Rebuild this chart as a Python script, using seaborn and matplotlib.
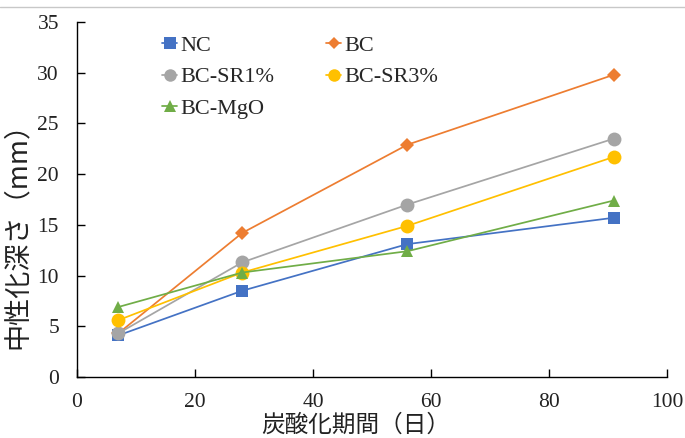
import matplotlib
matplotlib.use("Agg")
import matplotlib.pyplot as plt
import seaborn as sns
import pandas as pd
from matplotlib.lines import Line2D

days = [7, 28, 56, 91]
series_names = ["NC", "BC", "BC-SR1%", "BC-SR3%", "BC-MgO"]
nc = [4.1, 8.5, 13.1, 15.7]
bc = [4.3, 14.2, 22.9, 29.8]
sr1 = [4.3, 11.3, 17.0, 23.5]
sr3 = [5.6, 10.3, 14.9, 21.7]
mgo = [6.9, 10.3, 12.4, 17.4]
values = [nc, bc, sr1, sr3, mgo]

colors = ["#4472C4", "#ED7D31", "#A5A5A5", "#FFC000", "#70AD47"]
markers = ["s", "D", "o", "o", "^"]
msizes = [9, 7, 10, 10, 9]

rows = []
for name, vals in zip(series_names, values):
    for d, v in zip(days, vals):
        rows.append({"day": d, "depth": v, "series": name})
df = pd.DataFrame(rows)

sns.set_style("white")
plt.rcParams['font.family'] = ['Liberation Serif', 'Noto Sans CJK JP']

fig = plt.figure(figsize=(6.85, 4.38), dpi=100)
ax = fig.add_axes([0.1124, 0.1393, 0.8613, 0.8105])

palette = dict(zip(series_names, colors))
for name, m, ms in zip(series_names, markers, msizes):
    sub = df[df["series"] == name]
    sns.lineplot(data=sub, x="day", y="depth", ax=ax, color=palette[name],
                 marker=m, markersize=ms, markeredgewidth=0, linewidth=1.25,
                 label=name, legend=False)

ax.set_xlim(0, 100)
ax.set_ylim(0, 35)
ax.set_xticks([0, 20, 40, 60, 80, 100])
ax.set_yticks(range(0, 36, 5))
for s in ["top", "right"]:
    ax.spines[s].set_visible(False)
for s in ["left", "bottom"]:
    ax.spines[s].set_color("#000000")
    ax.spines[s].set_linewidth(1.0)
ax.tick_params(axis="both", direction="in", length=6, width=1, colors="#000000",
               labelsize=15.5, left=True, bottom=True)
ax.tick_params(axis="x", pad=11.5)
ax.tick_params(axis="y", pad=13)
for lab in ax.get_xticklabels() + ax.get_yticklabels():
    lab.set_color("#222222")

ax.set_xlabel("炭酸化期間（日）", fontsize=17, family=['Noto Sans CJK JP'], color="#222222")
ax.set_ylabel("中性化深さ（mm）", fontsize=19.5, family=['Noto Sans CJK JP'], color="#222222")
ax.xaxis.set_label_coords(0.473, -0.103)
ax.yaxis.set_label_coords(-0.078, 0.418)

order = [0, 2, 4, 1, 3]
handles = [Line2D([0], [0], color=colors[i], marker=markers[i], markersize=msizes[i] * 0.9,
                  markeredgewidth=0, linewidth=1.25) for i in order]
labels = [series_names[i] for i in order]
leg = ax.legend(handles, labels, ncol=2, frameon=False, loc="upper left",
                bbox_to_anchor=(0.11, 1.019), fontsize=16, handlelength=0.7,
                handletextpad=0.15, columnspacing=2.3, labelspacing=0.5)

fig.add_artist(Line2D([0, 1], [1 - 7 / 438, 1 - 7 / 438], color="#C8C8C8", linewidth=1,
                      transform=fig.transFigure))

fig.savefig("out.png", dpi=100)
